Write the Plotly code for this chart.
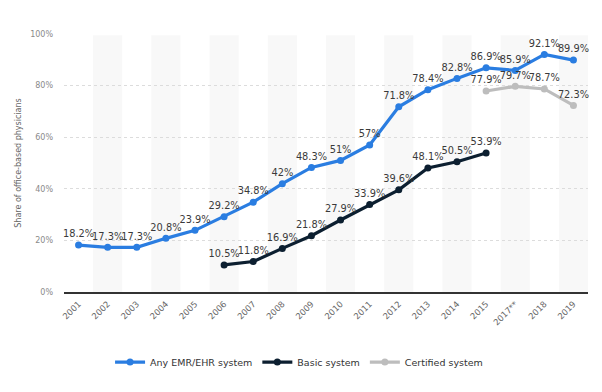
import plotly.graph_objects as go

years = ["2001", "2002", "2003", "2004", "2005", "2006", "2007", "2008", "2009",
         "2010", "2011", "2012", "2013", "2014", "2015", "2017**", "2018", "2019"]

any_emr = [18.2, 17.3, 17.3, 20.8, 23.9, 29.2, 34.8, 42, 48.3, 51, 57, 71.8,
           78.4, 82.8, 86.9, 85.9, 92.1, 89.9]
basic = [None, None, None, None, None, 10.5, 11.8, 16.9, 21.8, 27.9, 33.9,
         39.6, 48.1, 50.5, 53.9, None, None, None]
certified = [None] * 14 + [77.9, 79.7, 78.7, 72.3]

series = [
    ("Any EMR/EHR system", any_emr, "#2a7de1"),
    ("Basic system", basic, "#0c1f30"),
    ("Certified system", certified, "#bdbdbd"),
]

FONT = "DejaVu Sans"

def fmt(v):
    if v is None:
        return ""
    s = ("%.1f" % v).rstrip("0").rstrip(".")
    return s + "%"

fig = go.Figure()
for name, vals, color in series:
    fig.add_trace(go.Scatter(
        x=years, y=vals, name=name, mode="lines+markers+text",
        line=dict(color=color, width=3.2),
        marker=dict(color=color, size=7),
        text=[fmt(v) for v in vals],
        textposition="top center",
        textfont=dict(family=FONT, size=9.8, color="#3a3a3a"),
        cliponaxis=False,
        connectgaps=False,
    ))

shapes = []
for i in range(len(years)):
    if i % 2 == 1:
        shapes.append(dict(type="rect", xref="x", yref="paper",
                           x0=i - 0.5, x1=i + 0.5, y0=0, y1=0.995,
                           fillcolor="#f8f8f8", line=dict(width=0), layer="below"))

# page body has an 8px default margin: compensate so the plot lands in place
fig.update_layout(
    width=594, height=384,
    margin=dict(l=56, r=14, t=26, b=100, autoexpand=False),
    paper_bgcolor="white", plot_bgcolor="white",
    shapes=shapes,
    font=dict(family=FONT, size=9, color="#666666"),
    showlegend=True,
    legend=dict(orientation="h", x=0.49, xref="container", xanchor="center",
                y=0.078, yref="container", yanchor="middle",
                font=dict(family=FONT, size=9.5, color="#333333"),
                itemwidth=30, tracegroupgap=0),
    xaxis=dict(
        type="category", categoryorder="array", categoryarray=years,
        range=[-0.5, len(years) - 0.5], automargin=False,
        showgrid=False, showline=True, linecolor="#333333", linewidth=1.5,
        tickangle=-45, tickfont=dict(family=FONT, size=8.5, color="#666666"),
        ticks="", zeroline=False, ticklabelstandoff=2,
    ),
    yaxis=dict(
        range=[0, 100], tickvals=[0, 20, 40, 60, 80, 100],
        ticktext=["0%", "20%", "40%", "60%", "80%", "100%"],
        showgrid=True, gridcolor="#dcdcdc", griddash="dot", gridwidth=1,
        zeroline=False, ticks="", automargin=False, ticklabelstandoff=10,
        tickfont=dict(family=FONT, size=8, color="#8a8a8a"),
        title=dict(text="Share of office-based physicians", standoff=7,
                   font=dict(family=FONT, size=8, color="#666666")),
    ),
)

fig.write_html("out.html")
